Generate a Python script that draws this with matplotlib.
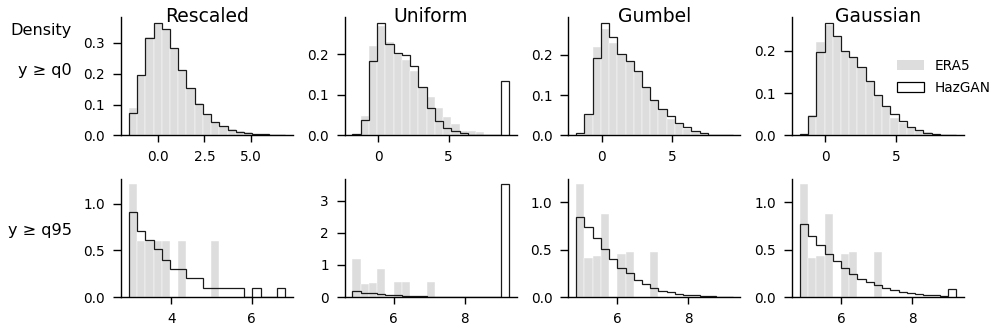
import numpy as np
import matplotlib
matplotlib.use("Agg")
import matplotlib.pyplot as plt
from matplotlib.patches import Patch

# column titles and row labels
titles = ["Rescaled", "Uniform", "Gumbel", "Gaussian"]
rows = ["y \u2265 q0", "y \u2265 q95"]

# bin ranges (19 bins each)
n_bins = 19
ranges_q0 = [(-1.6, 6.88), (-1.8, 9.25), (-1.8, 9.25), (-1.8, 9.25)]
ranges_q95 = [(2.94, 6.835), (4.84, 9.24), (4.84, 9.24), (4.84, 9.24)]

# densities, row y >= q0
era5_q0_rescaled = [0.088, 0.195, 0.318, 0.36, 0.345, 0.283, 0.212, 0.155, 0.104, 0.068,
                    0.045, 0.030, 0.020, 0.013, 0.010, 0.006, 0.004, 0.002, 0.001]
hazgan_q0_rescaled = [0.073, 0.196, 0.316, 0.365, 0.346, 0.283, 0.211, 0.153, 0.102, 0.068,
                      0.043, 0.029, 0.019, 0.012, 0.009, 0.006, 0.004, 0.003, 0.002]
era5_q0_uniform = [0.0, 0.049, 0.22, 0.27, 0.23, 0.20, 0.187, 0.158, 0.12, 0.095,
                   0.068, 0.045, 0.027, 0.012, 0.010, 0.008, 0.0, 0.0, 0.0]
hazgan_q0_uniform = [0.004, 0.039, 0.183, 0.278, 0.225, 0.202, 0.199, 0.172, 0.120, 0.067,
                     0.035, 0.018, 0.010, 0.005, 0.002, 0.001, 0.001, 0.0, 0.133]
era5_q0_gumbel = [0.0, 0.05, 0.219, 0.264, 0.229, 0.20, 0.184, 0.16, 0.12, 0.088,
                  0.063, 0.040, 0.028, 0.015, 0.009, 0.004, 0.0, 0.0, 0.0]
hazgan_q0_gumbel = [0.007, 0.054, 0.192, 0.279, 0.244, 0.202, 0.184, 0.159, 0.119, 0.088,
                    0.066, 0.049, 0.031, 0.020, 0.012, 0.005, 0.002, 0.001, 0.001]
era5_q0_gaussian = [0.0, 0.048, 0.221, 0.26, 0.233, 0.20, 0.184, 0.16, 0.128, 0.095,
                    0.068, 0.040, 0.030, 0.017, 0.010, 0.007, 0.0, 0.0, 0.0]
hazgan_q0_gaussian = [0.004, 0.047, 0.196, 0.266, 0.235, 0.200, 0.184, 0.162, 0.128, 0.096,
                      0.070, 0.050, 0.034, 0.021, 0.012, 0.006, 0.003, 0.002, 0.002]

# row y >= q95
era5_q95_rescaled = [1.21, 0.606, 0.606, 0.606, 0.606, 0.0, 0.606, 0.0, 0.0, 0.0,
                     0.606, 0.0, 0.0, 0.0, 0.0, 0.0, 0.0, 0.0, 0.0]
hazgan_q95_rescaled = [0.91, 0.71, 0.61, 0.51, 0.40, 0.30, 0.30, 0.20, 0.20, 0.10,
                       0.10, 0.10, 0.10, 0.10, 0.0, 0.10, 0.0, 0.0, 0.10]
era5_q95_other = [1.19, 0.415, 0.43, 0.88, 0.0, 0.455, 0.475, 0.0, 0.0, 0.475,
                  0.0, 0.0, 0.0, 0.0, 0.0, 0.0, 0.0, 0.0, 0.0]
hazgan_q95_uniform = [0.18, 0.14, 0.115, 0.09, 0.07, 0.05, 0.04, 0.03, 0.02, 0.015,
                      0.01, 0.01, 0.008, 0.006, 0.005, 0.004, 0.003, 0.002, 3.52]
hazgan_q95_gumbel = [0.846, 0.734, 0.62, 0.503, 0.40, 0.31, 0.25, 0.18, 0.136, 0.094,
                     0.066, 0.049, 0.035, 0.024, 0.017, 0.012, 0.008, 0.005, 0.003]
hazgan_q95_gaussian = [0.77, 0.647, 0.552, 0.458, 0.381, 0.304, 0.245, 0.189, 0.154, 0.122,
                       0.098, 0.073, 0.056, 0.042, 0.031, 0.024, 0.021, 0.012, 0.084]

era5 = [[era5_q0_rescaled, era5_q0_uniform, era5_q0_gumbel, era5_q0_gaussian],
        [era5_q95_rescaled, era5_q95_other, era5_q95_other, era5_q95_other]]
hazgan = [[hazgan_q0_rescaled, hazgan_q0_uniform, hazgan_q0_gumbel, hazgan_q0_gaussian],
          [hazgan_q95_rescaled, hazgan_q95_uniform, hazgan_q95_gumbel, hazgan_q95_gaussian]]
ranges = [ranges_q0, ranges_q95]

grey = "#dddddd"

plt.rcParams["font.family"] = ["DejaVu Sans"]
plt.rcParams["xtick.major.size"] = 4.8
plt.rcParams["ytick.major.size"] = 5.5
plt.rcParams["xtick.major.width"] = 1.0
plt.rcParams["ytick.major.width"] = 1.0
plt.rcParams["axes.linewidth"] = 1.0
plt.rcParams["xtick.labelsize"] = 9.8
plt.rcParams["ytick.labelsize"] = 9.8
plt.rcParams["xtick.major.pad"] = 6.0
plt.rcParams["ytick.major.pad"] = 6.0

fig, axes = plt.subplots(2, 4, figsize=(9.95, 3.32), dpi=100)
fig.subplots_adjust(left=0.1216, right=0.9689, bottom=0.1054, top=0.9488,
                    wspace=0.30, hspace=0.364)

for i in range(2):
    for j in range(4):
        ax = axes[i, j]
        lo, hi = ranges[i][j]
        edges = np.linspace(lo, hi, n_bins + 1)
        ax.bar(edges[:-1], era5[i][j], width=np.diff(edges), align="edge",
               color=grey, edgecolor="white", linewidth=0.3)
        ax.stairs(hazgan[i][j], edges, baseline=0, fill=False,
                  color="#1a1a1a", linewidth=0.9)
        ax.spines["top"].set_visible(False)
        ax.spines["right"].set_visible(False)
        ax.margins(x=0.05)
        ax.set_ylim(0, max(max(era5[i][j]), max(hazgan[i][j])) * 1.05)
        if i == 0:
            ax.set_title(titles[j], fontsize=13.5, y=0.955, pad=0)

axes[0, 0].set_xticks([0.0, 2.5, 5.0])
axes[0, 0].set_xticklabels(["0.0", "2.5", "5.0"])
for j in range(1, 4):
    axes[0, j].set_xticks([0, 5])
axes[0, 0].set_yticks([0.0, 0.1, 0.2, 0.3])
for j in range(1, 4):
    axes[0, j].set_yticks([0.0, 0.1, 0.2])

axes[1, 0].set_xticks([4, 6])
for j in range(1, 4):
    axes[1, j].set_xticks([6, 8])
axes[1, 0].set_yticks([0.0, 0.5, 1.0])
axes[1, 1].set_yticks([0, 1, 2, 3])
axes[1, 2].set_yticks([0.0, 0.5, 1.0])
axes[1, 3].set_yticks([0.0, 0.5, 1.0])

fig.text(72 / 995, 1 - 31 / 332, "Density", ha="right", va="center", fontsize=11.6)
fig.text(72 / 995, 1 - 70 / 332, rows[0], ha="right", va="center", fontsize=11.6)
fig.text(72 / 995, 1 - 231 / 332, rows[1], ha="right", va="center", fontsize=11.6)

handles = [Patch(facecolor=grey, edgecolor="none", label="ERA5"),
           Patch(facecolor="white", edgecolor="black", linewidth=0.9, label="HazGAN")]
axes[0, 3].legend(handles=handles, loc="upper left", bbox_to_anchor=(0.61, 0.645),
                  frameon=False, fontsize=9.8, handlelength=2.0, handleheight=0.75,
                  handletextpad=0.8, borderpad=0, borderaxespad=0, labelspacing=0.55)

fig.savefig("out.png", dpi=100)
